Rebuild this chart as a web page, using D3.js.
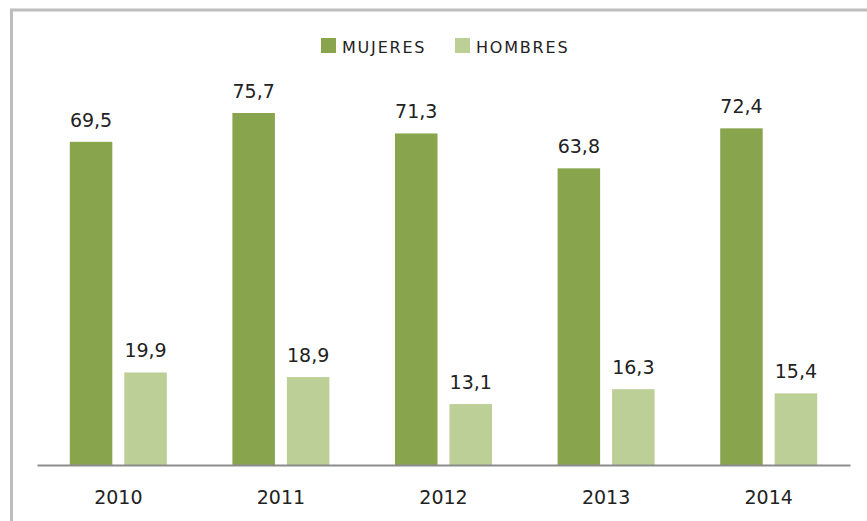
<!DOCTYPE html>
<html>
<head>
<meta charset="utf-8">
<script src="https://cdn.jsdelivr.net/npm/d3@7"></script>
<style>
  body { margin: 0; background: #fff; }
  svg { display: block; font-family: "DejaVu Sans", sans-serif; }
</style>
</head>
<body>
<svg id="chart" width="867" height="521"></svg>
<script>
// data
const years = ["2010", "2011", "2012", "2013", "2014"];
const mujeres = [69.5, 75.7, 71.3, 63.8, 72.4];
const hombres = [19.9, 18.9, 13.1, 16.3, 15.4];
const seriesNames = ["MUJERES", "HOMBRES"];

const colors = d3.scaleOrdinal().domain(seriesNames).range(["#88a44d", "#bbcf96"]);

const svg = d3.select("#chart");

// frame border
svg.append("rect")
    .attr("x", 11.5).attr("y", 10)
    .attr("width", 900).attr("height", 600)
    .attr("fill", "none")
    .attr("stroke", "#bdbdbd")
    .attr("stroke-width", 3);

const rows = years.map(function(y, i) {
  return {year: y, MUJERES: mujeres[i], HOMBRES: hombres[i]};
});

// scales
const x0 = d3.scaleBand().domain(years).range([37, 850]);
const groupW = 97;
const x1 = d3.scaleBand().domain(seriesNames).range([0, groupW]).paddingInner(0.22);
const y = d3.scaleLinear().domain([0, 90]).range([465, 46.5]);

// bars
const groups = svg.append("g").selectAll("g")
    .data(rows)
    .enter().append("g")
    .attr("transform", function(d) { return "translate(" + (x0(d.year) + (x0.bandwidth() - groupW) / 2) + ",0)"; });

const cells = groups.selectAll("g")
    .data(function(d) { return seriesNames.map(function(k) { return {key: k, value: d[k]}; }); })
    .enter().append("g");

cells.append("rect")
    .attr("x", function(d) { return x1(d.key); })
    .attr("y", function(d) { return y(d.value); })
    .attr("width", x1.bandwidth())
    .attr("height", function(d) { return y(0) - y(d.value); })
    .attr("fill", function(d) { return colors(d.key); });

// value labels
cells.append("text")
    .attr("x", function(d) { return x1(d.key) + x1.bandwidth() / 2; })
    .attr("y", function(d) { return y(d.value) - 15; })
    .attr("text-anchor", "middle")
    .attr("font-size", "19px")
    .attr("fill", "#222")
    .text(function(d) { return d.value.toFixed(1).replace(".", ","); });

// x axis
const xAxis = svg.append("g")
    .attr("transform", "translate(0," + y(0) + ")")
    .call(d3.axisBottom(x0).tickSize(0).tickPadding(26));
xAxis.select(".domain").attr("stroke", "#8c8c8c").attr("stroke-width", 2);
xAxis.selectAll("text")
    .attr("font-family", "DejaVu Sans, sans-serif")
    .attr("font-size", "19px")
    .attr("fill", "#222");

// legend
const legendX = [321, 455];
const legend = svg.append("g").selectAll("g")
    .data(seriesNames)
    .enter().append("g")
    .attr("transform", function(d, i) { return "translate(" + legendX[i] + ",38)"; });

legend.append("rect")
    .attr("width", 15).attr("height", 15)
    .attr("fill", function(d) { return colors(d); });

legend.append("text")
    .attr("x", 21)
    .attr("y", 15)
    .attr("font-size", "16px")
    .attr("letter-spacing", "1.8px")
    .attr("fill", "#222")
    .text(function(d) { return d; });
</script>
</body>
</html>
